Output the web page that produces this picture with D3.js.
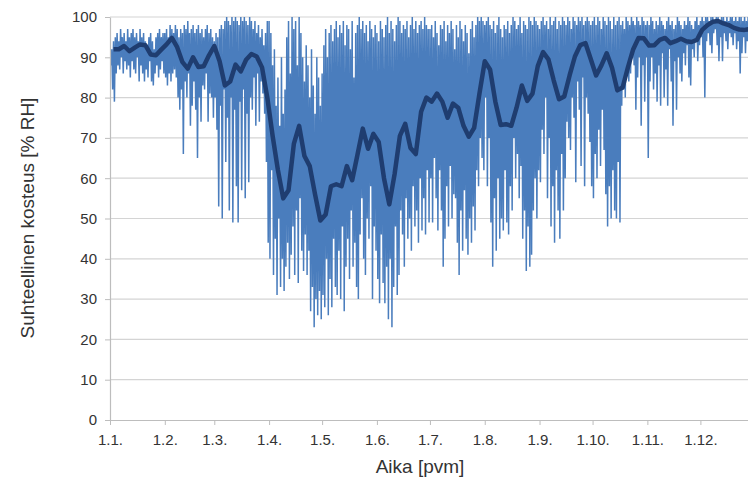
<!DOCTYPE html>
<html>
<head>
<meta charset="utf-8">
<script src="https://cdn.jsdelivr.net/npm/d3@7"></script>
<style>
  body { margin: 0; background: #fff; }
  svg text { font-family: "Liberation Sans", Arial, sans-serif; fill: #333; }
</style>
</head>
<body>
<script>
const width = 748;
const height = 486;

// x-akselin kuukausien alut ja nimet
const monthLabels = ["1.1.", "1.2.", "1.3.", "1.4.", "1.5.", "1.6.", "1.7.", "1.8.", "1.9.", "1.10.", "1.11.", "1.12."];
const yTicks = [0, 10, 20, 30, 40, 50, 60, 70, 80, 90, 100];

// mitattu RH, vuorokauden ylä- ja alalukemat (päivä 0 = 1.1.)
const dailyHigh = [
  93, 92, 94, 95, 96, 94, 97, 95, 96, 94, 97, 95, 96, 97, 95, 96, 94, 97, 95, 96, 94, 93, 95, 96, 94, 92, 95, 96, 97, 95, 96,
  96, 97, 95, 98, 97, 96, 98, 97, 95, 97, 96, 98, 97, 99, 96, 97, 98, 96, 97, 98, 96, 97, 95, 97, 98, 96, 97, 95,
  94, 96, 95, 97, 98, 97, 99, 100, 99, 98, 100, 99, 100, 99, 98, 100, 99, 100, 99, 98, 100, 99, 97, 99, 96, 98, 95, 97, 93, 96, 99,
  99, 96, 88, 92, 78, 85, 73, 90, 76, 82, 95, 99, 86, 100, 97, 99, 88, 100, 96, 90, 84, 93, 88, 80, 92, 83, 76, 90, 85, 78,
  86, 93, 97, 90, 96, 98, 94, 97, 99, 95, 98, 96, 99, 93, 98, 97, 92, 99, 85, 96, 98, 100, 97, 99, 96, 98, 94, 99, 97, 95, 98,
  96, 94, 99, 97, 95, 98, 100, 96, 99, 97, 94, 98, 100, 99, 96, 98, 97, 99, 95, 98, 100, 97, 99, 96, 98, 99, 97, 100, 98, 97,
  97, 98, 95, 99, 96, 93, 98, 97, 99, 94, 98, 96, 99, 97, 92, 98, 95, 99, 97, 94, 98, 96, 91, 97, 99, 95, 98, 100, 99, 100, 99,
  98, 99, 100, 98, 97, 99, 96, 98, 100, 97, 95, 98, 97, 99, 96, 98, 100, 99, 97, 98, 100, 96, 99, 98, 97, 100, 99, 98, 100, 99, 98,
  97, 99, 100, 98, 99, 97, 100, 98, 99, 100, 97, 99, 98, 100, 99, 98, 100, 99, 97, 100, 99, 98, 100, 99, 100, 98, 99, 100, 99, 98,
  99, 100, 98, 100, 99, 97, 100, 99, 98, 100, 99, 97, 100, 98, 99, 100, 98, 99, 97, 100, 99, 98, 100, 99, 98, 100, 99, 98, 100, 99, 98,
  99, 98, 100, 99, 97, 99, 98, 100, 99, 98, 97, 99, 100, 98, 99, 97, 98, 100, 99, 98, 97, 99, 98, 100, 99, 98, 97, 99, 100, 98,
  99, 100, 99, 100, 100, 99, 100, 100, 99, 100, 100, 99, 100, 100, 99, 100, 99, 100, 100, 99, 100, 99, 100, 100, 99, 100, 99, 100, 100
];
const dailyLow = [
  88, 82, 79, 86, 88, 87, 90, 86, 89, 87, 88, 85, 89, 87, 86, 90, 84, 88, 86, 84, 87, 85, 89, 84, 83, 86, 88, 85, 87, 89, 86,
  85, 83, 86, 84, 86, 87, 85, 80, 77, 82, 66, 84, 80, 86, 73, 78, 84, 77, 65, 80, 74, 83, 82, 86, 74, 81, 80, 75,
  80, 72, 53, 78, 50, 82, 64, 75, 52, 80, 49, 77, 58, 49, 79, 57, 82, 55, 76, 59, 80, 77, 85, 73, 86, 74, 84, 81, 76, 64, 44,
  40, 62, 36, 45, 31, 50, 33, 40, 32, 38, 44, 35, 41, 48, 36, 52, 34, 55, 42, 37, 46, 36, 42, 27, 33, 23, 30, 26, 32, 25,
  31, 28, 40, 26, 35, 28, 45, 33, 31, 42, 30, 48, 27, 38, 45, 35, 52, 38, 44, 33, 30, 46, 55, 40, 36, 50, 45, 58, 30, 48, 42,
  35, 29, 46, 34, 29, 38, 25, 40, 23, 33, 48, 31, 36, 52, 46, 38, 55, 45, 50, 42, 58, 48, 52, 44, 60, 47, 55, 46, 62, 49,
  60, 49, 65, 55, 47, 62, 52, 38, 45, 58, 48, 63, 50, 56, 55, 44, 36, 52, 42, 57, 45, 41, 50, 44, 53, 47, 62, 58, 70, 65, 62,
  80, 58, 70, 49, 38, 55, 42, 60, 45, 50, 47, 62, 49, 46, 58, 52, 70, 60, 66, 55, 63, 45, 52, 37, 48, 38, 41, 52, 60, 50, 62,
  59, 72, 66, 80, 55, 70, 48, 58, 44, 62, 52, 45, 66, 52, 60, 74, 70, 67, 80, 75, 59, 84, 77, 63, 85, 58, 80, 76, 69, 58,
  55, 66, 60, 72, 63, 77, 67, 56, 48, 58, 50, 62, 52, 50, 64, 49, 78, 82, 80, 86, 84, 86, 90, 88, 77, 85, 90, 73, 88, 79, 90,
  65, 84, 90, 82, 86, 79, 88, 78, 91, 80, 87, 78, 92, 84, 73, 89, 77, 90, 86, 84, 91, 88, 93, 85, 83, 92, 90, 94, 89, 93,
  95, 90, 80, 94, 96, 93, 91, 96, 97, 93, 89, 95, 89, 96, 94, 92, 96, 95, 93, 96, 92, 94, 86, 91, 95, 91, 94, 95, 93
];

// liukuva keskiarvo, 3 päivän välein alkaen 3.1.
const smoothRH = [
  92, 92, 92.8, 91.5, 92.4, 93.2, 93, 90.7, 90.5, 91.9, 93.2, 94.8, 92.5, 88.8, 87.2, 90, 87.6, 87.8, 90.5, 92.8,
  89, 83, 84, 88.2, 86.5, 89.4, 90.8, 90.2, 87.5, 80, 70.5, 62, 55, 57, 68.5, 73, 65.5, 63, 56, 49.5,
  51, 58, 58.5, 58, 63, 59.5, 65.8, 72.3, 67.3, 71, 69, 60, 53.5, 61, 70.5, 73.5, 67.5, 66, 76.5, 80,
  79, 81, 79, 75, 78.5, 77.5, 73, 70.3, 72.5, 81, 89, 87, 79, 73.2, 73.4, 73, 77.5, 83, 79.2, 81,
  87.8, 91.3, 89.5, 84.3, 79.6, 80.3, 85.5, 90.2, 93, 93.5, 89.5, 85.5, 88, 91, 87.4, 81.8, 82.5, 87.5, 92, 94.8,
  94.7, 92.9, 93, 94.3, 94.8, 93.5, 94, 94.6, 94, 93.8, 94.3, 96.8, 98, 98.8, 99, 98.4, 98, 97.3, 96.9, 96.8, 97
];

const margin = { left: 110, top: 17, bottom: 420 };
const day0 = new Date(2013, 0, 1);
const dayToDate = d => d3.timeHour.offset(day0, Math.round(d * 24));

const svg = d3.select("body")
    .append("svg")
    .attr("width", width)
    .attr("height", height);

const x = d3.scaleTime()
    .domain([day0, new Date(2014, 0, 1)])
    .range([margin.left, 755.2]);
const y = d3.scaleLinear()
    .domain([0, 100])
    .range([margin.bottom, margin.top]);

// vaakasuorat apuviivat
svg.append("g")
    .selectAll("line")
    .data(yTicks.slice(1))
    .enter()
    .append("line")
    .attr("x1", margin.left)
    .attr("x2", width)
    .attr("y1", d => y(d))
    .attr("y2", d => y(d))
    .attr("stroke", "#d4d4d4")
    .attr("stroke-width", 1.2);

svg.append("clipPath")
    .attr("id", "plot")
    .append("rect")
    .attr("x", margin.left)
    .attr("y", 0)
    .attr("width", width - margin.left)
    .attr("height", margin.bottom);

const plot = svg.append("g").attr("clip-path", "url(#plot)");

// tuntimittaus piirretään ylä- ja alalukeman välillä sahaavana viivana
const raw = [];
dailyHigh.forEach((h, i) => {
    raw.push([i, h]);
    raw.push([i + 0.5, dailyLow[i]]);
});

plot.append("path")
    .datum(raw)
    .attr("fill", "none")
    .attr("stroke", "#4a7dbd")
    .attr("stroke-width", 1.5)
    .attr("d", d3.line()
        .x(d => x(dayToDate(d[0])))
        .y(d => y(d[1])));

plot.append("path")
    .datum(smoothRH.map((v, i) => [2 + i * 3, v]))
    .attr("fill", "none")
    .attr("stroke", "#1f3d70")
    .attr("stroke-width", 4.5)
    .attr("stroke-linejoin", "round")
    .attr("d", d3.line()
        .x(d => x(dayToDate(d[0])))
        .y(d => y(d[1])));

// akselit
const monthStarts = monthLabels.map((m, i) => new Date(2013, i, 1));

const xAxis = svg.append("g")
    .attr("transform", `translate(0,${margin.bottom})`)
    .call(d3.axisBottom(x)
        .tickValues(monthStarts)
        .tickFormat((d, i) => monthLabels[i])
        .tickSize(5)
        .tickSizeOuter(0));
xAxis.select(".domain").attr("stroke", "#bdbdbd").attr("stroke-width", 1.2).attr("d", `M${margin.left},0.5H${width}`);
xAxis.selectAll(".tick line").attr("stroke", "#bdbdbd");
xAxis.selectAll(".tick text")
    .attr("dy", "1.1em")
    .style("font-size", "15px")
    .attr("fill", "#333");

const yAxis = svg.append("g")
    .attr("transform", `translate(${margin.left},0)`)
    .call(d3.axisLeft(y)
        .tickValues(yTicks)
        .tickSize(5)
        .tickSizeOuter(0)
        .tickPadding(8));
yAxis.select(".domain").attr("stroke", "#bdbdbd").attr("stroke-width", 1.2);
yAxis.selectAll(".tick line").attr("stroke", "#bdbdbd");
yAxis.selectAll(".tick text")
    .style("font-size", "15px")
    .attr("fill", "#333");

// akselien otsikot
svg.append("text")
    .attr("x", 420)
    .attr("y", 473)
    .attr("text-anchor", "middle")
    .style("font-size", "19px")
    .text("Aika [pvm]");

svg.append("text")
    .attr("transform", "translate(34,218) rotate(-90)")
    .attr("text-anchor", "middle")
    .style("font-size", "19px")
    .text("Suhteellinen kosteus [% RH]");
</script>
</body>
</html>
